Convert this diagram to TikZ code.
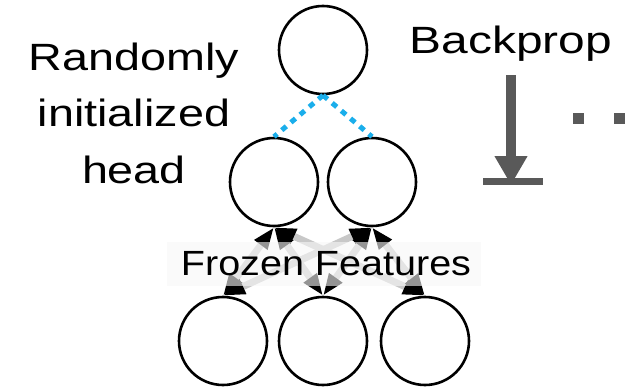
\documentclass[tikz,border=0pt]{standalone}
\usepackage{fontspec}
\setmainfont{Liberation Sans}
\usetikzlibrary{arrows.meta}
\definecolor{headblue}{HTML}{1AAEEB}
\definecolor{featgray}{HTML}{C8C8C8}
\definecolor{propgray}{HTML}{595959}
\tikzset{
  unit/.style={circle, draw=black, line width=2.6pt, minimum size=88pt, inner sep=0pt},
  headlink/.style={headblue, line width=5pt, dash pattern=on 6pt off 6pt},
  featlink/.style={featgray, line width=7pt,
    arrows={Triangle[color=black,length=22pt,width=15pt]-Triangle[color=black,length=22pt,width=15pt]}},
  bigtext/.style={font=\fontsize{38}{56.5}\selectfont, inner sep=0pt, xscale=1.23},
}
\begin{document}
\begin{tikzpicture}[x=1pt,y=-1pt]
  \useasboundingbox (0,0) rectangle (626,388);

  % network units
  \node[unit] (top) at (323,50) {};
  \node[unit] (ml)  at (274,182) {};
  \node[unit] (mr)  at (372,182) {};
  \node[unit] (bl)  at (223,341) {};
  \node[unit] (bm)  at (323,341) {};
  \node[unit] (br)  at (425,341) {};

  % randomly initialized head connections
  \draw[headlink] (top.south) -- (ml.north);
  \draw[headlink] (top.south) -- (mr.north);

  % frozen feature connections
  \foreach \m in {ml,mr}
    \foreach \b in {bl,bm,br}
      \draw[featlink] (\m.south) -- (\b.north);

  % label over the feature connections
  \node[fill=white!97!black, fill opacity=0.6, text opacity=1,
        minimum width=314pt, minimum height=44pt, inner sep=0pt] (frozenbox) at (324,264) {};
  \node[font=\fontsize{35}{40}\selectfont, inner sep=0pt, xscale=1.13] (frozen) at (326,264) {Frozen Features};

  % captions
  \node[bigtext, align=center, anchor=base] (head) at (134,183) {Randomly\\initialized\\head};
  \node[bigtext, xscale=1.26/1.23, anchor=base] (backprop) at (511,53) {Backprop};

  % backprop arrow stopping at a bar
  \coordinate (shaftTop) at (511,75);
  \coordinate (barMid) at (511,181.5);
  \coordinate (barL) at (483,181.5);
  \coordinate (barR) at (543,181.5);
  \draw[propgray, line width=10pt, -{Triangle[length=29pt,width=31pt]}] (shaftTop) -- ([yshift=-3.5pt]barMid);
  \draw[propgray, line width=7pt] (barL) -- (barR);

  % continuation dots
  \fill[propgray] (573,113) rectangle (584,124);
  \fill[propgray] (614,113) rectangle (625,124);
\end{tikzpicture}
\end{document}
